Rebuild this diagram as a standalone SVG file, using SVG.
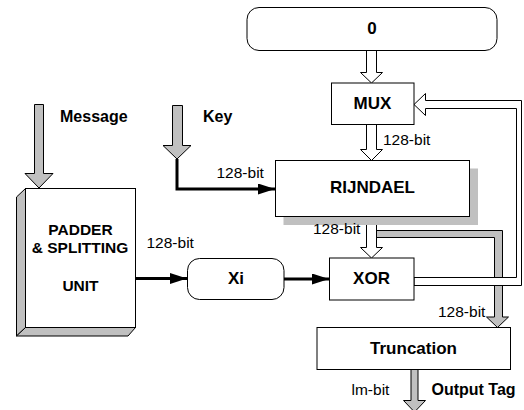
<svg xmlns="http://www.w3.org/2000/svg" width="524" height="410" viewBox="0 0 524 410">
  <style>
    text { font-family: "Liberation Sans", Arial, sans-serif; fill: #000; }
    .box { fill: #fff; stroke: #000; stroke-width: 1; }
    .shadow { fill: #c0c0c0; stroke: none; }
    .side { fill: #c0c0c0; stroke: #000; stroke-width: 1; stroke-linejoin: miter; }
    .lbl { font-size: 17px; font-weight: bold; text-anchor: middle; }
    .unit { font-size: 15.5px; font-weight: bold; text-anchor: middle; }
    .cap { font-size: 16px; font-weight: bold; }
    .bits { font-size: 15.5px; }
    .hollow { fill: #fff; stroke: #000; stroke-width: 1; stroke-linejoin: miter; }
    .bus { fill: #c0c0c0; stroke: #000; stroke-width: 1; stroke-linejoin: miter; }
    .wire { fill: none; stroke: #000; stroke-width: 3; }
  </style>
  <defs>
    <marker id="head" markerUnits="userSpaceOnUse" markerWidth="17" markerHeight="11" refX="17" refY="5.5" orient="auto">
      <path d="M0,0 L17,5.5 L0,11 z" fill="#000"/>
    </marker>
  </defs>

  <!-- connectors -->
  <g id="connectors">
    <!-- Message input -->
    <polygon class="bus" points="34.5,104.5 43.5,104.5 43.5,173.5 53,173.5 39,188 25,173.5 34.5,173.5"/>
    <!-- Key input -->
    <polygon class="bus" points="172.5,105.5 182.5,105.5 182.5,145.5 191,145.5 177,159 163,145.5 172.5,145.5"/>
    <path class="wire" d="M177,159 V189 H275" marker-end="url(#head)"/>
    <!-- padder to Xi, Xi to XOR -->
    <path class="wire" d="M136,278.5 H187" marker-end="url(#head)"/>
    <path class="wire" d="M284,279 H329" marker-end="url(#head)"/>
    <!-- 0 to MUX -->
    <polygon class="hollow" points="366.5,50.5 376.5,50.5 376.5,72.5 382.5,72.5 371.5,83 360.5,72.5 366.5,72.5"/>
    <!-- MUX to RIJNDAEL -->
    <polygon class="hollow" points="366.5,124.5 376.5,124.5 376.5,149.5 382.5,149.5 371.5,160.5 360.5,149.5 366.5,149.5"/>
    <!-- RIJNDAEL output tapped to Truncation -->
    <polygon class="bus" points="376.5,230.5 502.5,230.5 502.5,317 508.5,317 497.5,327.5 486.5,317 494.5,317 494.5,237.5 376.5,237.5"/>
    <!-- RIJNDAEL to XOR -->
    <polygon class="hollow" points="366.5,216.5 376.5,216.5 376.5,247.5 382.5,247.5 371.5,258 360.5,247.5 366.5,247.5"/>
    <!-- XOR feedback to MUX -->
    <polygon class="hollow" points="414,277.5 516.5,277.5 516.5,108.5 425.5,108.5 425.5,115.5 414,104.5 425.5,93.5 425.5,100.5 521.5,100.5 521.5,285.5 414,285.5"/>
    <!-- Truncation output -->
    <polygon class="bus" points="411,369.5 418,369.5 418,400.5 425.5,400.5 414.5,412 403.5,400.5 411,400.5"/>
  </g>

  <g id="zero">
    <rect class="box" x="247" y="7.5" width="250" height="43" rx="12"/>
    <text class="lbl" x="372" y="34">0</text>
  </g>

  <g id="mux">
    <rect class="box" x="331.5" y="83" width="82.5" height="41.5"/>
    <text class="lbl" x="372.5" y="108.5">MUX</text>
  </g>

  <g id="rijndael">
    <rect class="shadow" x="283.5" y="168.5" width="194.5" height="56.5"/>
    <rect class="box" x="275.5" y="160.5" width="194" height="56"/>
    <text class="lbl" x="372.5" y="193">RIJNDAEL</text>
  </g>

  <g id="padder">
    <polygon class="side" points="16.5,197 25.5,188.5 25.5,327.5 16.5,336"/>
    <polygon class="side" points="16.5,336 25.5,327.5 135.5,327.5 128,336"/>
    <rect class="box" x="25.5" y="188.5" width="110" height="139"/>
    <text class="unit" x="80.5" y="235">PADDER</text>
    <text class="unit" x="80" y="253">&amp; SPLITTING</text>
    <text class="unit" x="80.5" y="291">UNIT</text>
  </g>

  <g id="xi">
    <rect class="box" x="187.5" y="258.5" width="96.5" height="41" rx="12"/>
    <text class="lbl" x="236" y="284">Xi</text>
  </g>

  <g id="xor">
    <rect class="box" x="329.5" y="258" width="84.5" height="42"/>
    <text class="lbl" x="371.5" y="284">XOR</text>
  </g>

  <g id="truncation">
    <rect class="box" x="317" y="327.5" width="193.5" height="42"/>
    <text class="lbl" x="413.5" y="353.5">Truncation</text>
  </g>

  <!-- signal names and widths -->
  <g id="labels">
    <text class="cap" x="60" y="122">Message</text>
    <text class="cap" x="203" y="122">Key</text>
    <text class="cap" x="431.5" y="395">Output Tag</text>
    <text class="bits" x="351.5" y="395">lm-bit</text>
    <text class="bits" x="383" y="145">128-bit</text>
    <text class="bits" x="216.5" y="178">128-bit</text>
    <text class="bits" x="313" y="234">128-bit</text>
    <text class="bits" x="146.5" y="248">128-bit</text>
    <text class="bits" x="438" y="317">128-bit</text>
  </g>
</svg>
